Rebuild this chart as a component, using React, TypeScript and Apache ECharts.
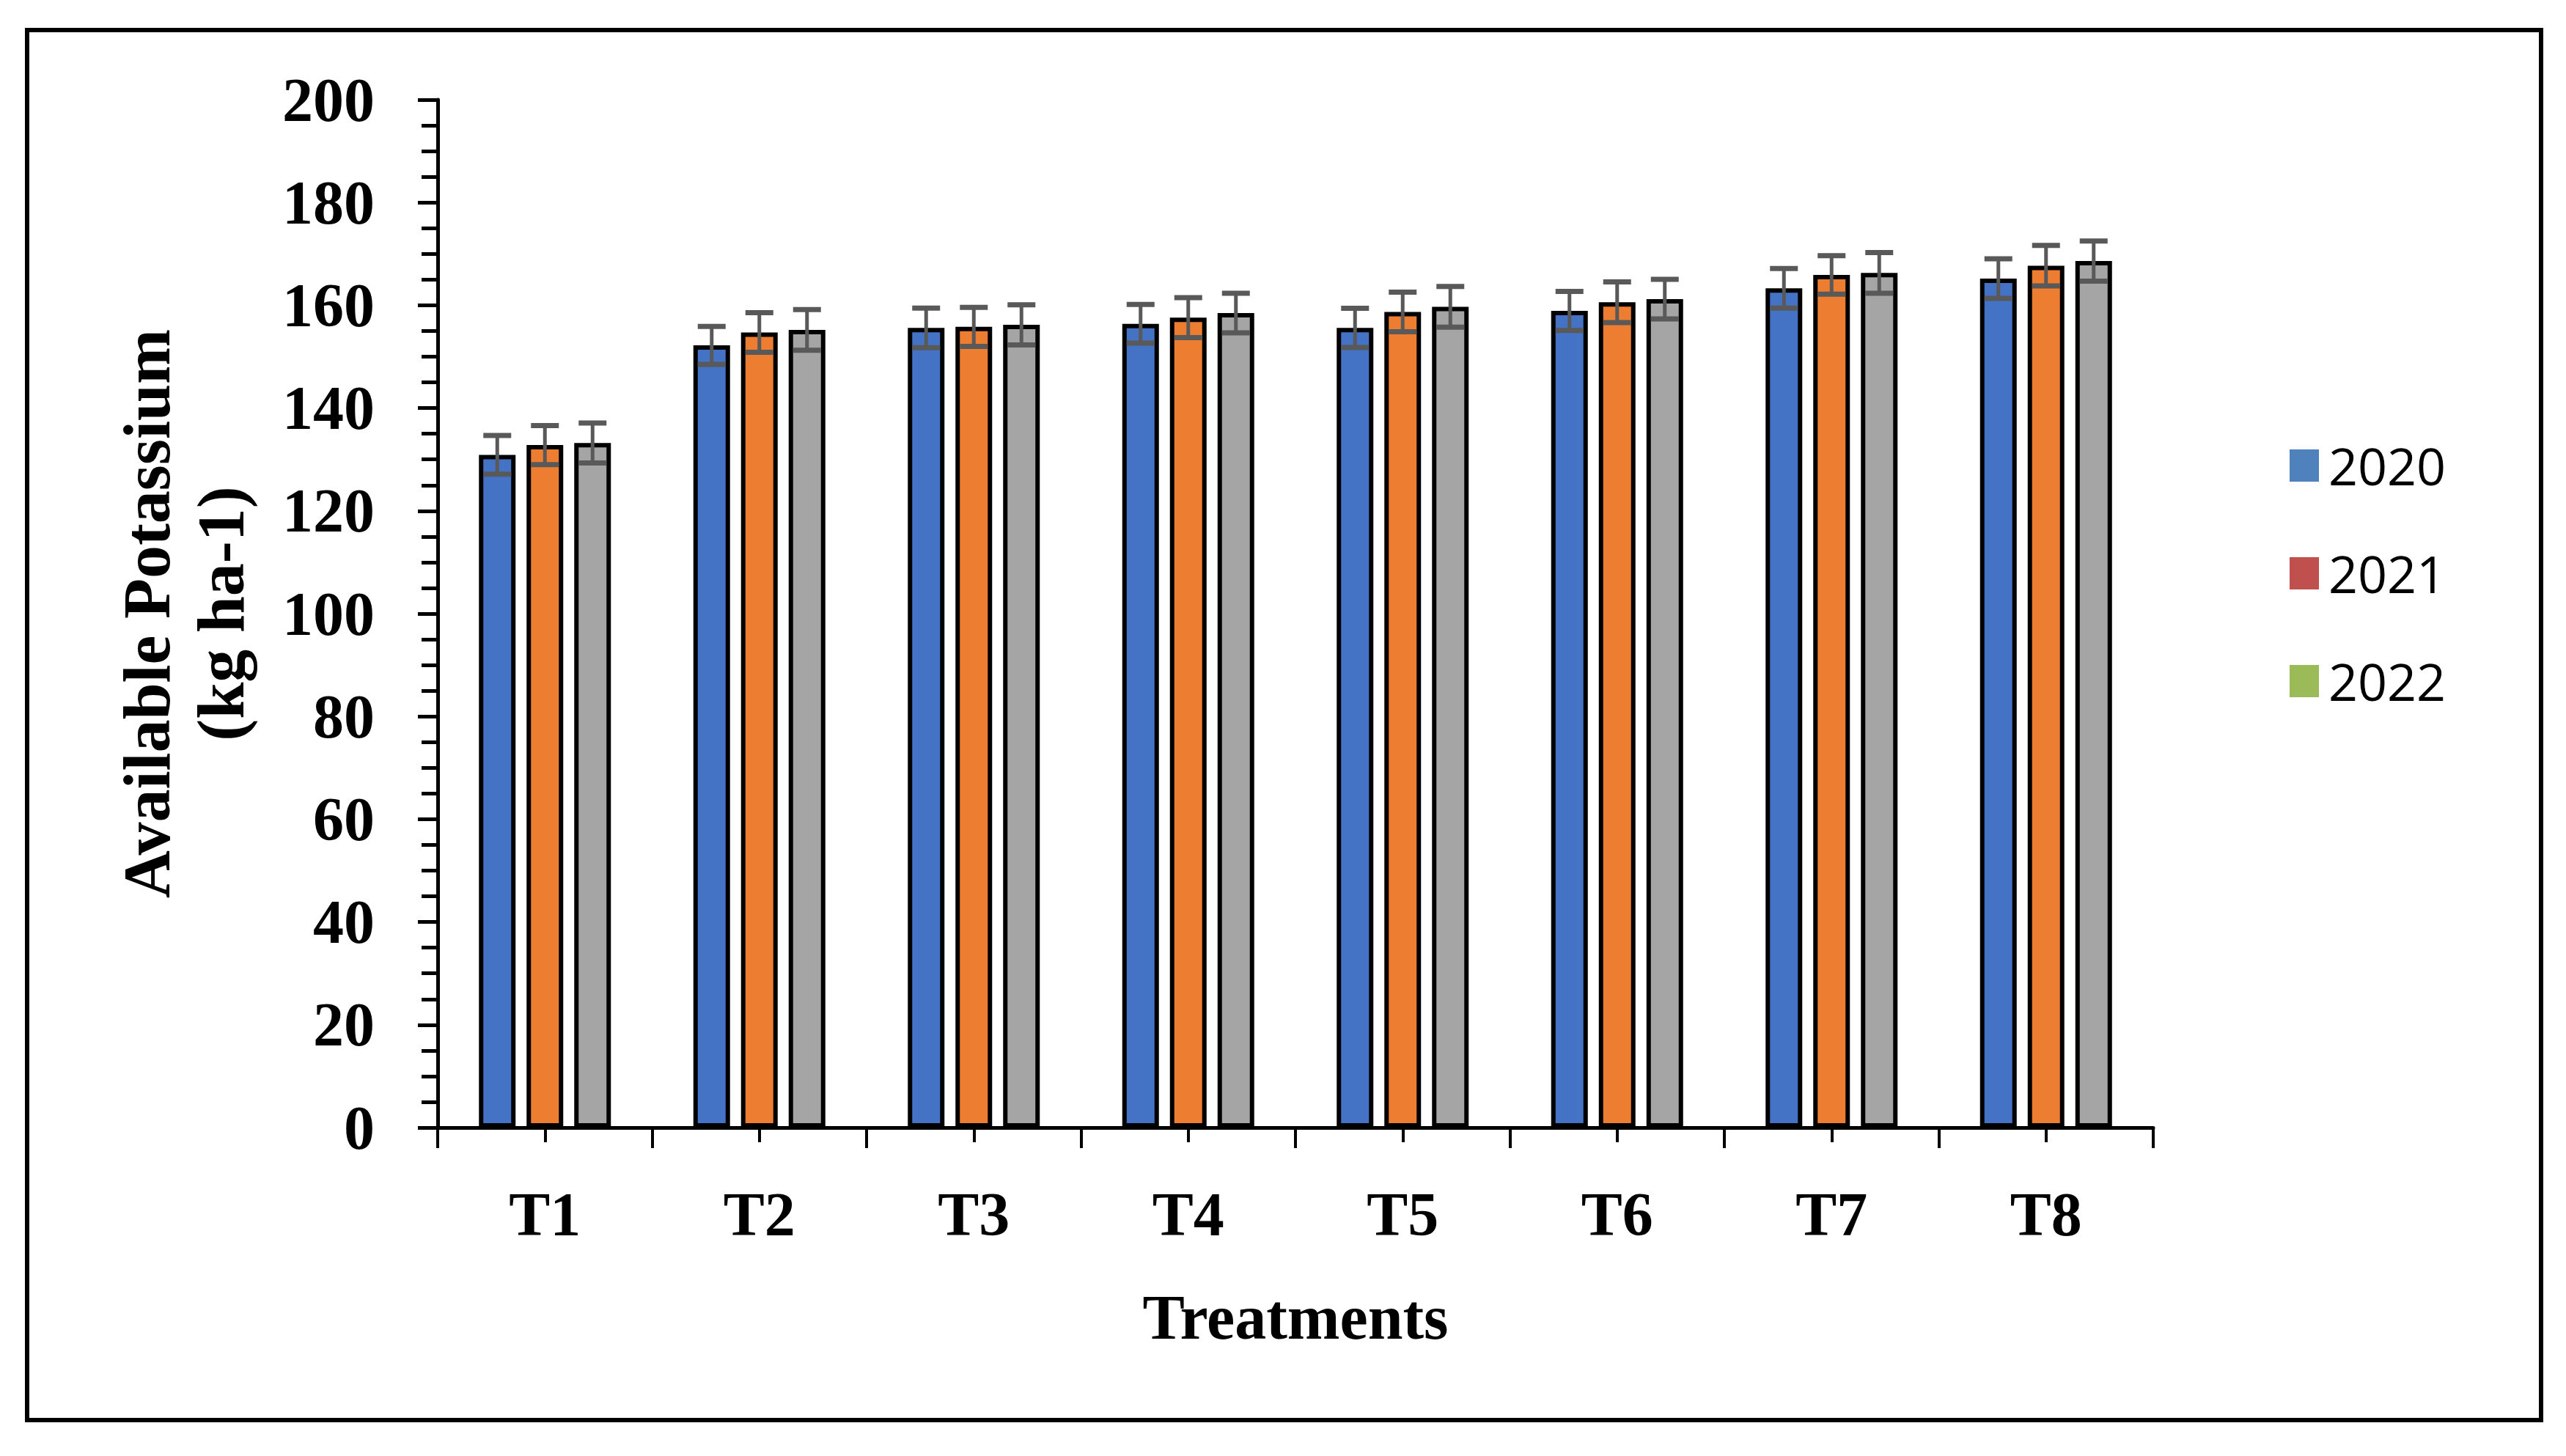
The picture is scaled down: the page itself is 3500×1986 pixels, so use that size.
import React, { useEffect, useRef } from "react";
import * as echarts from "echarts";

const categories = ["T1", "T2", "T3", "T4", "T5", "T6", "T7", "T8"];
const years = ["2020", "2021", "2022"];
const values2020 = [130.9, 152.2, 155.6, 156.4, 155.6, 158.9, 163.3, 165.2];
const values2021 = [132.8, 154.7, 155.8, 157.6, 158.7, 160.6, 165.9, 167.7];
const values2022 = [133.2, 155.2, 156.2, 158.5, 159.7, 161.2, 166.3, 168.6];
const errors2020 = [3.75, 3.7, 3.85, 3.75, 3.8, 3.8, 3.85, 3.85];
const errors2021 = [3.8, 3.85, 3.8, 3.9, 3.85, 3.95, 3.75, 3.95];
const errors2022 = [3.9, 3.95, 3.9, 3.85, 3.95, 3.85, 3.95, 3.9];
const yTicks = { min: 0, max: 200, interval: 20 };

const barColors = ["#4472C4", "#ED7D31", "#A5A5A5"];
const legendColors = ["#4F81BD", "#C0504D", "#9BBB59"];
const BAR_W = 50;
const BAR_GAP = 0.3;
const SERIF = "'Liberation Serif', 'Times New Roman', serif";

export default function App() {
  const ref = useRef<HTMLDivElement>(null);
  useEffect(() => {
    if (!ref.current) return;
    const chart = echarts.init(ref.current, null, { renderer: "svg" });
    const vals = [values2020, values2021, values2022];
    const errs = [errors2020, errors2021, errors2022];

    const barSeries = years.map((y, i) => ({
      name: y,
      type: "bar",
      data: vals[i],
      barWidth: BAR_W,
      barGap: `${BAR_GAP * 100}%`,
      itemStyle: { color: barColors[i], borderColor: "#000", borderWidth: 6 },
      z: 2,
    }));

    const errSeries = years.map((y, i) => {
      const offset = (i - 1) * BAR_W * (1 + BAR_GAP);
      return {
        name: "err" + y,
        type: "custom",
        z: 5,
        data: vals[i].map((v, k) => [k, v, errs[i][k]]),
        encode: { x: 0, y: 1 },
        renderItem: (params: any, api: any) => {
          const c = api.value(0);
          const v = api.value(1);
          const e = api.value(2);
          const top = api.coord([c, v + e]);
          const bot = api.coord([c, v - e]);
          const x = top[0] + offset;
          const st = { stroke: "#595959", lineWidth: 5 };
          const cap = { stroke: "#595959", lineWidth: 7 };
          return {
            type: "group",
            children: [
              { type: "line", shape: { x1: x, y1: top[1], x2: x, y2: bot[1] }, style: st },
              { type: "line", shape: { x1: x - 19, y1: top[1], x2: x + 19, y2: top[1] }, style: cap },
              { type: "line", shape: { x1: x - 19, y1: bot[1], x2: x + 19, y2: bot[1] }, style: cap },
            ],
          };
        },
      };
    });

    chart.setOption({
      animation: false,
      backgroundColor: "#fff",
      grid: { left: 597, right: 563, top: 136, bottom: 448, containLabel: false },
      legend: {
        orient: "vertical",
        left: 3118,
        top: 590,
        icon: "rect",
        itemWidth: 40,
        itemHeight: 44,
        itemGap: 67,
        data: years.map((y, i) => ({
          name: y,
          itemStyle: { color: legendColors[i], borderWidth: 0 },
        })),
        textStyle: {
          fontFamily: "'Open Sans', sans-serif",
          fontSize: 70,
          lineHeight: 80,
          color: "#000",
          padding: [0, 0, 0, 8],
        },
      },
      xAxis: [
        {
          type: "category",
          data: categories,
          position: "bottom",
          axisLine: { show: true, lineStyle: { color: "#000", width: 5 } },
          axisTick: { show: true, interval: 0, alignWithLabel: false, length: 28, lineStyle: { color: "#000", width: 4 } },
          axisLabel: {
            interval: 0,
            margin: 76,
            fontFamily: SERIF,
            fontWeight: "bold",
            fontSize: 84,
            color: "#000",
          },
          name: "Treatments",
          nameLocation: "middle",
          nameGap: 216,
          nameTextStyle: { fontFamily: SERIF, fontWeight: "bold", fontSize: 86, color: "#000" },
          splitLine: { show: false },
        },
        {
          type: "category",
          data: categories,
          position: "bottom",
          axisLine: { show: false },
          axisTick: { show: true, interval: 0, alignWithLabel: true, length: 20, lineStyle: { color: "#000", width: 4 } },
          axisLabel: { show: false },
          splitLine: { show: false },
        },
      ],
      yAxis: {
        type: "value",
        min: yTicks.min,
        max: yTicks.max,
        interval: yTicks.interval,
        axisLine: { show: true, lineStyle: { color: "#000", width: 5 } },
        axisTick: { show: true, length: 27, lineStyle: { color: "#000", width: 5 } },
        minorTick: { show: true, splitNumber: 4, length: 22, lineStyle: { color: "#000", width: 5 } },
        splitLine: { show: false },
        axisLabel: {
          margin: 86,
          fontFamily: SERIF,
          fontWeight: "bold",
          fontSize: 84,
          color: "#000",
        },
        name: "Available Potassium\n(kg ha-1)",
        nameLocation: "middle",
        nameRotate: 90,
        nameGap: 245,
        nameTextStyle: {
          fontFamily: SERIF,
          fontWeight: "bold",
          fontSize: 90,
          lineHeight: 101,
          color: "#000",
        },
      },
      graphic: [
        {
          type: "rect",
          shape: { x: 37, y: 41, width: 3429, height: 1896 },
          style: { fill: "none", stroke: "#000", lineWidth: 6 },
          silent: true,
          z: 0,
        },
      ],
      series: [...barSeries, ...errSeries],
    });
    return () => chart.dispose();
  }, []);
  return (
    <div
      ref={ref}
      style={{ position: "absolute", left: 0, top: 0, width: 3500, height: 1986, background: "#fff" }}
    />
  );
}
